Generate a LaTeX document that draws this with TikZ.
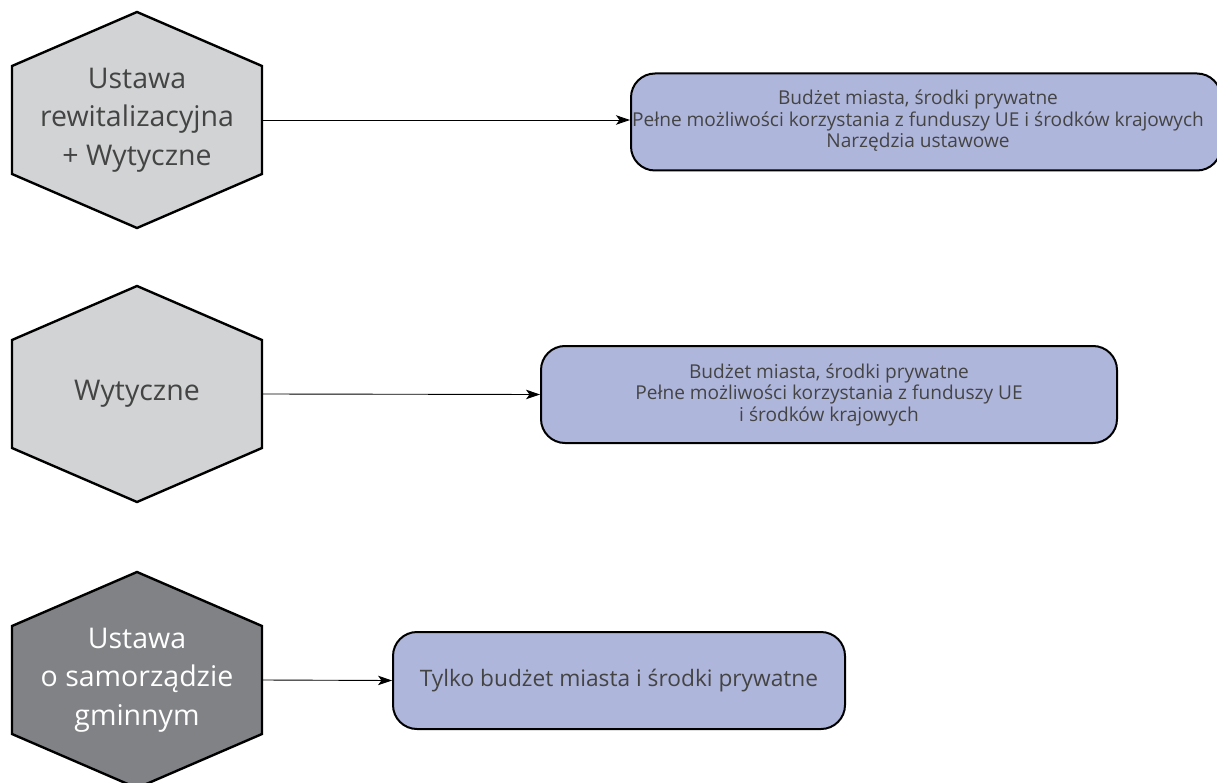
\documentclass[tikz,border=0pt]{standalone}
\usepackage{fontspec}
\setmainfont{Open Sans}
\usetikzlibrary{arrows.meta}
\definecolor{hexlight}{HTML}{D1D3D4}
\definecolor{hexdark}{HTML}{808285}
\definecolor{boxfill}{HTML}{AFB6DC}
\definecolor{txt}{HTML}{444444}
\begin{document}
\begin{tikzpicture}[x=1pt,y=-1pt,
  hexlabel/.style={draw=none,minimum width=250pt,minimum height=108pt,
    align=center,font=\fontsize{28.5}{38.5}\selectfont,text=txt,inner sep=0pt},
  fundbox/.style={draw=black,line width=2pt,rounded corners=24pt,fill=boxfill,
    align=center,text=txt,inner sep=0pt,minimum height=97pt},
  link/.style={line width=0.9pt,-{Stealth[length=14pt,width=9.5pt,inset=3.5pt]}}]
\useasboundingbox (0,0) rectangle (1217,783);
% hexagon outlines
\newcommand{\hexpath}[2]{%
  \filldraw[line width=2.4pt,fill=#2,line join=miter]
    (137,#1-108) -- (262,#1-54) -- (262,#1+54) -- (137,#1+108)
    -- (12,#1+54) -- (12,#1-54) -- cycle;}
\hexpath{120}{hexlight}
\hexpath{394}{hexlight}
\hexpath{680}{hexdark}
% hexagon labels
\node[hexlabel] (h1) at (137,120) {Ustawa\\rewitalizacyjna\\+ Wytyczne};
\node[hexlabel] (h2) at (137,394) {Wytyczne};
\node[hexlabel,text=white] (h3) at (137,680) {Ustawa\\o samorządzie\\gminnym};
% funding boxes (the first one runs past the right margin)
\node[fundbox,minimum width=590pt,font=\fontsize{19.1}{21.5}\selectfont] (b1) at (926,122)
  {\hspace*{-16pt}\begin{tabular}{@{}c@{}}Budżet miasta, środki prywatne\\Pełne możliwości korzystania z funduszy UE i środków krajowych\\Narzędzia ustawowe\end{tabular}};
\node[fundbox,minimum width=576pt,font=\fontsize{19.1}{21.5}\selectfont] (b2) at (829,394.5)
  {Budżet miasta, środki prywatne\\Pełne możliwości korzystania z funduszy UE\\i środków krajowych};
\node[fundbox,minimum width=452pt,font=\fontsize{22.7}{26}\selectfont] (b3) at (619,680.5)
  {Tylko budżet miasta i środki prywatne};
% connectors
\draw[link] (h1.east) -- (h1.east -| b1.west);
\draw[link] (h2.east) -- (b2.west);
\draw[link] (h3.east) -- (b3.west);
\end{tikzpicture}
\end{document}
